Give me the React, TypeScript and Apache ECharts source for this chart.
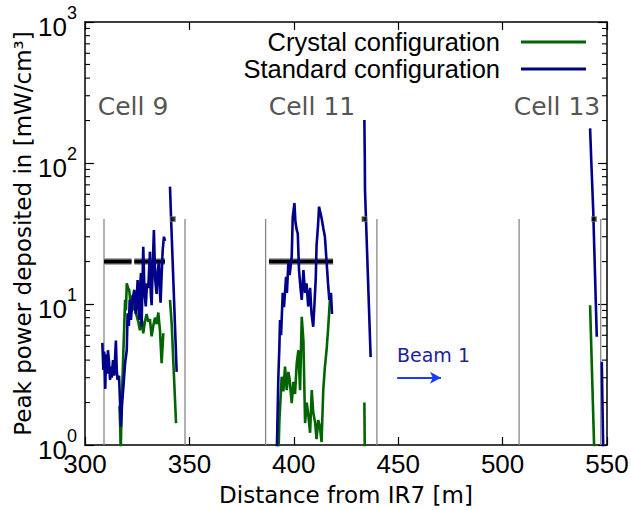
import React, { useEffect, useRef } from "react";
import * as echarts from "echarts";

const ARIAL = "'Liberation Sans', Arial, sans-serif";
const SANS = "'DejaVu Sans', 'Open Sans', sans-serif";

const GREEN = "#006400";
const NAVY = "#00008a";

// axis settings
const xMin = 300;
const xMax = 550;
const xStep = 50;
const yMin = 1;
const yMax = 1000;
const yMinorTicks = [2, 3, 4, 5, 6, 7, 8, 9, 20, 30, 40, 50, 60, 70, 80, 90, 200, 300, 400, 500, 600, 700, 800, 900];

// Crystal configuration (green), segments separated by gaps
const crystalCell9a = [
  [316.5, 1.9], [316.9, 1.3], [317.1, 0.9], [317.6, 2.0], [318.4, 4.7], [318.8, 7.0], [319.2, 10.7],
  [319.6, 9.0], [320.0, 14.0], [320.6, 13.0], [321.2, 12.5], [321.8, 10.0], [322.4, 11.5], [323.1, 9.0],
  [323.8, 10.5], [324.5, 8.5], [325.5, 7.5], [326.3, 6.5], [327.1, 8.0], [327.9, 6.2], [328.7, 7.5],
  [329.5, 8.5], [330.3, 7.5], [331.1, 7.8], [331.9, 5.9], [332.7, 7.0], [333.5, 8.0], [334.3, 7.2],
  [335.1, 8.7], [335.9, 6.5], [336.7, 3.8], [337.5, 6.2],
];
const crystalCell9b = [[340.7, 10.7], [341.5, 7.3], [343.6, 1.43]];
const crystalCell11 = [
  [392.6, 0.8], [393.1, 1.5], [394.2, 3.05], [395.0, 2.4], [395.8, 3.6], [396.6, 2.45], [397.4, 3.3],
  [397.9, 3.0], [399.0, 1.98], [399.8, 2.8], [400.6, 2.3], [401.4, 3.8], [402.2, 4.7], [403.0, 2.45],
  [403.8, 8.1], [404.6, 5.5], [405.4, 1.43], [406.2, 2.0], [407.0, 1.6], [407.8, 1.22], [408.6, 2.45],
  [409.3, 1.7], [410.2, 1.45], [410.9, 1.1], [411.7, 1.5], [412.5, 1.35], [413.3, 1.05], [414.1, 2.45],
  [414.9, 3.6], [415.7, 4.7], [416.5, 6.9], [417.3, 10.7],
];
const crystalSpike11 = [[433.8, 2.0], [434.0, 0.9]];
const crystalCell13 = [[541.9, 9.8], [543.9, 0.9]];

// Standard configuration (navy)
const standardCell9a = [
  [308.3, 5.3], [308.8, 3.4], [309.2, 4.6], [309.7, 2.5], [310.1, 4.4], [310.6, 3.2], [311.0, 4.7],
  [311.5, 3.9], [312.0, 2.9], [312.4, 3.6], [312.8, 3.0], [313.4, 4.0], [314.0, 3.1], [314.8, 5.5],
  [315.2, 3.4], [315.6, 2.9], [316.3, 3.1], [316.8, 2.0], [317.2, 1.35], [317.8, 2.0], [318.4, 2.6],
  [319.2, 3.8], [320.0, 4.7], [320.4, 8.6], [321.0, 7.0], [321.4, 10.7], [322.0, 7.7], [322.6, 10.0],
  [323.1, 11.5], [323.6, 12.6], [324.3, 8.5], [324.8, 11.0], [325.2, 14.8], [325.6, 10.0], [326.0, 7.7],
  [326.4, 13.3], [326.8, 16.6], [327.1, 6.9], [327.9, 25.5], [328.5, 12.0], [329.1, 9.6], [329.7, 14.0],
  [330.3, 13.0], [331.1, 23.5], [331.5, 12.0], [331.9, 9.8], [332.5, 20.0], [333.0, 33.5], [333.6, 15.0],
  [334.3, 11.8], [334.8, 17.0], [335.4, 20.0], [335.9, 12.0], [336.2, 10.2], [336.7, 16.0], [337.2, 24.0],
  [337.8, 30.0], [338.3, 28.0],
];
const standardCell9b = [[340.7, 68.0], [341.2, 41.5], [343.9, 3.3]];
const standardCell11 = [
  [391.8, 0.8], [392.6, 3.05], [393.1, 5.0], [393.4, 7.7], [393.9, 6.0], [394.7, 12.0], [395.3, 9.5],
  [396.3, 15.6], [396.7, 12.0], [397.4, 19.5], [398.0, 16.0], [399.0, 21.7], [399.5, 41.5], [400.3, 52.0],
  [400.8, 38.0], [401.4, 33.5], [401.9, 31.7], [402.5, 17.4], [403.2, 13.0], [403.8, 10.7], [404.6, 17.4],
  [405.4, 12.0], [406.1, 14.0], [406.9, 9.6], [407.8, 13.0], [408.5, 8.5], [409.3, 6.9], [409.9, 10.0],
  [410.5, 15.0], [410.9, 26.0], [411.6, 36.0], [412.1, 49.0], [412.8, 44.0], [413.4, 40.0], [414.2, 34.0],
  [414.9, 30.0], [415.7, 20.0], [416.4, 14.0], [417.0, 10.7], [417.8, 12.0], [418.3, 8.5],
];
const standardSpike11 = [[433.8, 202.0], [434.0, 110.0], [434.1, 64.0], [436.8, 4.2]];
const standardCell13a = [[541.9, 176.0], [542.4, 110.0], [543.4, 46.0], [545.1, 5.86]];
const standardCell13b = [[547.5, 3.9], [548.2, 0.9]];

// magnet edges (grey verticals), reference bars and markers
const magnetEdges = [309.1, 347.9, 386.5, 439.8, 507.9, 547.0];
const edgeTop = 40;
const refBars = [[309.1, 322.3], [323.6, 338.3], [388.1, 418.8]];
const refBarLevel = 20;
const markers = [[342.1, 40], [433.8, 40], [543.8, 40]];
const beamArrow = [[449.5, 3.0], [470.5, 3.0]];

const cellLabels = ["Cell 9", "Cell 11", "Cell 13"];
const cellLabelX = [133, 312, 557];

export default function App() {
  const ref = useRef<HTMLDivElement>(null);
  useEffect(() => {
    if (!ref.current) return;
    const chart = echarts.init(ref.current, undefined, { renderer: "svg" });

    const lineSeries = (name: string, data: number[][], color: string) => ({
      name,
      type: "line",
      data,
      symbol: "none",
      showSymbol: false,
      lineStyle: { color, width: 2.6 },
      itemStyle: { color },
      z: 5,
      clip: true,
    });

    const series: any[] = [];
    magnetEdges.forEach((x) => {
      series.push({
        type: "line",
        data: [[x, yMin], [x, edgeTop]],
        symbol: "none",
        lineStyle: { color: "#888888", width: 1.3 },
        z: 2,
        silent: true,
      });
    });
    refBars.forEach(([a, b]) => {
      series.push({
        type: "line",
        data: [[a, refBarLevel], [b, refBarLevel]],
        symbol: "none",
        lineStyle: { color: "#aaaaaa", width: 7 },
        z: 3,
        silent: true,
      });
      series.push({
        type: "line",
        data: [[a, refBarLevel], [b, refBarLevel]],
        symbol: "none",
        lineStyle: { color: "#000000", width: 4 },
        z: 4,
        silent: true,
      });
    });
    series.push({
      type: "scatter",
      data: markers,
      symbol: "rect",
      symbolSize: 5,
      itemStyle: { color: "#000", borderColor: "#888", borderWidth: 0.8 },
      z: 6,
      silent: true,
    });

    series.push(lineSeries("Crystal configuration", crystalCell9a, GREEN));
    series.push(lineSeries("Crystal configuration", crystalCell9b, GREEN));
    series.push(lineSeries("Crystal configuration", crystalCell11, GREEN));
    series.push(lineSeries("Crystal configuration", crystalSpike11, GREEN));
    series.push(lineSeries("Crystal configuration", crystalCell13, GREEN));
    series.push(lineSeries("Standard configuration", standardCell9a, NAVY));
    series.push(lineSeries("Standard configuration", standardCell9b, NAVY));
    series.push(lineSeries("Standard configuration", standardCell11, NAVY));
    series.push(lineSeries("Standard configuration", standardSpike11, NAVY));
    series.push(lineSeries("Standard configuration", standardCell13a, NAVY));
    series.push({
      ...lineSeries("Standard configuration", standardCell13b, NAVY),
      markLine: {
        silent: true,
        symbol: ["none", "arrow"],
        symbolSize: [9, 11],
        label: { show: false },
        lineStyle: { color: "#1a3cff", width: 2.2, type: "solid" },
        data: [[{ coord: beamArrow[0] }, { coord: beamArrow[1] }]],
      },
    });

    // minor log ticks on both sides
    series.push({
      type: "custom",
      silent: true,
      data: yMinorTicks.map((v) => [xMin, v]),
      renderItem: (params: any, api: any) => {
        const pt = api.coord([api.value(0), api.value(1)]);
        const cs = params.coordSys;
        const st = { stroke: "#000", lineWidth: 1.1 };
        return {
          type: "group",
          children: [
            { type: "line", shape: { x1: cs.x, y1: pt[1], x2: cs.x + 5, y2: pt[1] }, style: st },
            { type: "line", shape: { x1: cs.x + cs.width - 5, y1: pt[1], x2: cs.x + cs.width, y2: pt[1] }, style: st },
          ],
        };
      },
      z: 10,
    });

    const xAxisBase = {
      type: "value",
      min: xMin,
      max: xMax,
      interval: xStep,
      splitLine: { show: false },
      axisLine: { show: true, onZero: false, lineStyle: { color: "#000", width: 1.5 } },
      axisTick: { show: true, inside: true, length: 8, lineStyle: { color: "#000", width: 1.2 } },
    };
    const yAxisBase = {
      type: "log",
      logBase: 10,
      min: yMin,
      max: yMax,
      splitLine: { show: false },
      axisLine: { show: true, onZero: false, lineStyle: { color: "#000", width: 1.5 } },
      axisTick: { show: true, inside: true, length: 9, lineStyle: { color: "#000", width: 1.2 } },
      minorTick: { show: false },
    };

    chart.setOption({
      animation: false,
      backgroundColor: "#ffffff",
      grid: { left: 85, right: 24, top: 22, bottom: 65, containLabel: false, outerBoundsMode: "none" },
      legend: {
        data: [
          { name: "Crystal configuration", icon: "rect" },
          { name: "Standard configuration", icon: "rect" },
        ],
        orient: "vertical",
        align: "right",
        right: 40,
        top: 24,
        itemWidth: 65,
        itemHeight: 3,
        itemGap: 1,
        selectedMode: false,
        textStyle: { fontSize: 25.5, lineHeight: 22, fontFamily: ARIAL, color: "#000", padding: [0, 16, 0, 0] },
      },
      xAxis: [
        {
          ...xAxisBase,
          position: "bottom",
          name: "Distance from IR7 [m]",
          nameLocation: "middle",
          nameGap: 38,
          nameMoveOverlap: false,
          nameTextStyle: { fontSize: 23, fontFamily: SANS, color: "#000" },
          axisLabel: { show: true, fontSize: 26, fontFamily: ARIAL, color: "#000", margin: 6 },
        },
        { ...xAxisBase, position: "top", axisLabel: { show: false } },
      ],
      yAxis: [
        {
          ...yAxisBase,
          position: "left",
          name: "Peak power deposited in [mW/cm³]",
          nameLocation: "middle",
          nameGap: 51,
          nameMoveOverlap: false,
          nameTextStyle: { fontSize: 23, fontFamily: SANS, color: "#000" },
          axisLabel: {
            show: true,
            margin: 8,
            formatter: (v: number) => {
              const e = String(Math.round(Math.log10(v)));
              return `{b|10}{s|${e}}`;
            },
            rich: {
              b: { fontSize: 26, fontFamily: ARIAL, color: "#000", verticalAlign: "bottom", lineHeight: 36 },
              s: { fontSize: 18, fontFamily: ARIAL, color: "#000", verticalAlign: "top", lineHeight: 18 },
            },
          },
        },
        { ...yAxisBase, position: "right", axisLabel: { show: false } },
      ],
      graphic: [
        ...cellLabels.map((t, i) => ({
          type: "text",
          x: cellLabelX[i],
          y: 106,
          z: 20,
          style: {
            text: t,
            fontSize: 25,
            fontFamily: SANS,
            fill: "#555555",
            align: "center",
            verticalAlign: "middle",
          },
        })),
        {
          type: "text",
          x: 397,
          y: 355,
          z: 20,
          style: {
            text: "Beam 1",
            fontSize: 19,
            fontFamily: SANS,
            fill: "#1e1e96",
            align: "left",
            verticalAlign: "middle",
          },
        },
      ],
      series,
    });
    return () => chart.dispose();
  }, []);
  return (
    <div
      ref={ref}
      style={{ position: "fixed", left: 0, top: 0, width: 631, height: 510, background: "#fff" }}
    />
  );
}
